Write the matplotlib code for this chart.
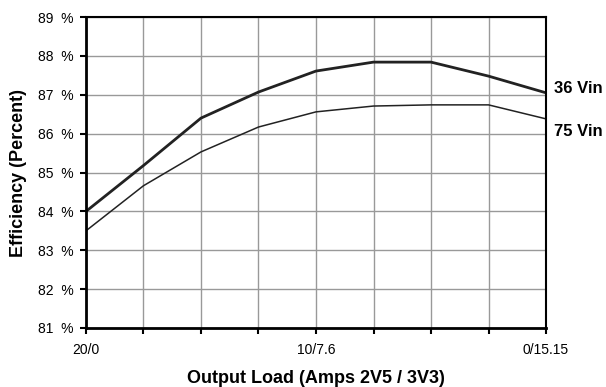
import matplotlib
matplotlib.use("Agg")
import matplotlib.pyplot as plt
from matplotlib.ticker import FuncFormatter

plt.rcParams["font.family"] = ["Liberation Sans", "DejaVu Sans"]

# load points, 0..8 across the sweep
load_pos = [0, 1, 2, 3, 4, 5, 6, 7, 8]
tick_labels = {0: "20/0", 4: "10/7.6", 8: "0/15.15"}

eff_36vin = [84.0, 85.18, 86.40, 87.07, 87.61, 87.84, 87.84, 87.48, 87.05]
eff_75vin = [83.5, 84.66, 85.53, 86.17, 86.56, 86.71, 86.74, 86.74, 86.38]

series_names = ["36 Vin", "75 Vin"]
label_y = [87.15, 86.05]

fig = plt.figure(figsize=(6.06, 3.87), dpi=100)
ax = fig.add_axes([0.1419, 0.1525, 0.7591, 0.8035])

ax.plot(load_pos, eff_36vin, color="#222222", linewidth=2.0)
ax.plot(load_pos, eff_75vin, color="#222222", linewidth=1.1)

ax.set_xlim(0, 8)
ax.set_ylim(81, 89)
ax.set_xticks(load_pos)
ax.set_xticklabels([tick_labels.get(p, "") for p in load_pos])
ax.set_yticks(range(81, 90))
ax.yaxis.set_major_formatter(FuncFormatter(lambda v, _: f"{int(v)}  %"))
ax.tick_params(axis="both", labelsize=10, width=1.5, length=4, color="black")
ax.tick_params(axis="x", pad=7)
ax.tick_params(axis="y", pad=5)

ax.grid(True, color="#999999", linewidth=1.0)
ax.set_axisbelow(True)
for side in ["left", "bottom"]:
	ax.spines[side].set_linewidth(2.0)
for side in ["top", "right"]:
	ax.spines[side].set_linewidth(1.5)

ax.set_xlabel("Output Load (Amps 2V5 / 3V3)", fontsize=13, fontweight="bold", labelpad=9)
ax.set_ylabel("Efficiency (Percent)", fontsize=13, fontweight="bold", labelpad=8)

for name, y in zip(series_names, label_y):
	ax.annotate(name, xy=(8, y), xytext=(6, 0), textcoords="offset points",
		fontsize=12, fontweight="bold", va="center", ha="left", annotation_clip=False)

fig.savefig("out.png", dpi=100)
